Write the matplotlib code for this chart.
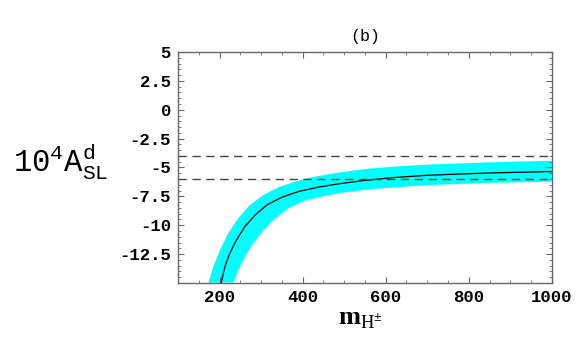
import numpy as np
import matplotlib
matplotlib.use('Agg')
from matplotlib import pyplot as plt
from matplotlib.ticker import MultipleLocator

matplotlib.rcParams['mathtext.fontset'] = 'custom'
matplotlib.rcParams['mathtext.rm'] = 'Liberation Mono'
matplotlib.rcParams['mathtext.it'] = 'Liberation Mono'
matplotlib.rcParams['mathtext.bf'] = 'Liberation Serif:bold'
matplotlib.rcParams['mathtext.sf'] = 'Liberation Serif'

# central value of the asymmetry vs charged Higgs mass
m_center = [204, 213, 225, 241, 261, 286, 314, 350, 390, 438, 486, 546, 620, 707, 850, 1000]
a_center = [-14.96, -13.57, -12.41, -11.26, -10.11, -9.10, -8.24, -7.57, -7.08, -6.70,
            -6.42, -6.13, -5.87, -5.66, -5.47, -5.35]

# upper and lower edge of the uncertainty band
m_upper = [173, 185, 201, 221, 245, 273, 306, 342, 382, 422, 478, 546, 620, 707, 850, 1000]
a_upper = [-14.96, -13.57, -12.13, -10.68, -9.39, -8.24, -7.37, -6.70, -6.22, -5.84,
           -5.49, -5.15, -4.92, -4.74, -4.55, -4.42]
m_lower = [233, 245, 261, 281, 306, 334, 366, 406, 454, 502, 546, 620, 707, 850, 1000]
a_lower = [-14.96, -13.86, -12.71, -11.55, -10.40, -9.39, -8.52, -7.86, -7.45, -7.15,
           -6.95, -6.72, -6.52, -6.33, -6.22]

# experimental bounds
bounds = [-4.0, -6.0]

fig = plt.figure(figsize=(5.76, 3.56), dpi=100)
ax = fig.add_axes([0.309, 0.205, 0.649, 0.649])

# band as closed polygon
band_x = np.concatenate([m_upper, m_lower[::-1]])
band_y = np.concatenate([a_upper, a_lower[::-1]])
ax.fill(band_x, band_y, color='#00ffff', lw=0)

ax.plot(m_center, a_center, color='black', lw=0.9)

for b in bounds:
    ax.axhline(b, color='#444444', lw=1.0, dashes=(6, 4))

ax.set_xlim(100, 1000)
ax.set_ylim(-15, 5)
ax.xaxis.set_major_locator(MultipleLocator(200))
ax.xaxis.set_minor_locator(MultipleLocator(50))
ax.yaxis.set_minor_locator(MultipleLocator(0.5))
ax.set_yticks([5, 2.5, 0, -2.5, -5, -7.5, -10, -12.5])
ax.set_yticklabels(['5', '2.5', '0', '-2.5', '-5', '-7.5', '-10', '-12.5'])

for sp in ax.spines.values():
    sp.set_color('#666666')
    sp.set_linewidth(1.0)
ax.tick_params(which='both', direction='in', top=True, right=True, color='#666666')
ax.tick_params(which='major', length=4, width=0.8, labelsize=12.5, pad=5)
ax.tick_params(which='minor', length=2, width=0.6)
for lab in ax.get_xticklabels() + ax.get_yticklabels():
    lab.set_family('Liberation Mono')
    lab.set_fontweight('bold')

ax.set_title('(b)', family='Liberation Mono', fontsize=12, pad=8)

fig.text(0.105, 0.545, r'$\mathrm{10^4A^d_{SL}}$', fontsize=22, ha='center', va='center')
fig.text(0.625, 0.108, r'$\mathbf{m}_{\mathsf{H}^{\pm}}$', fontsize=19, ha='center', va='center')

fig.savefig('out.png', dpi=100)
